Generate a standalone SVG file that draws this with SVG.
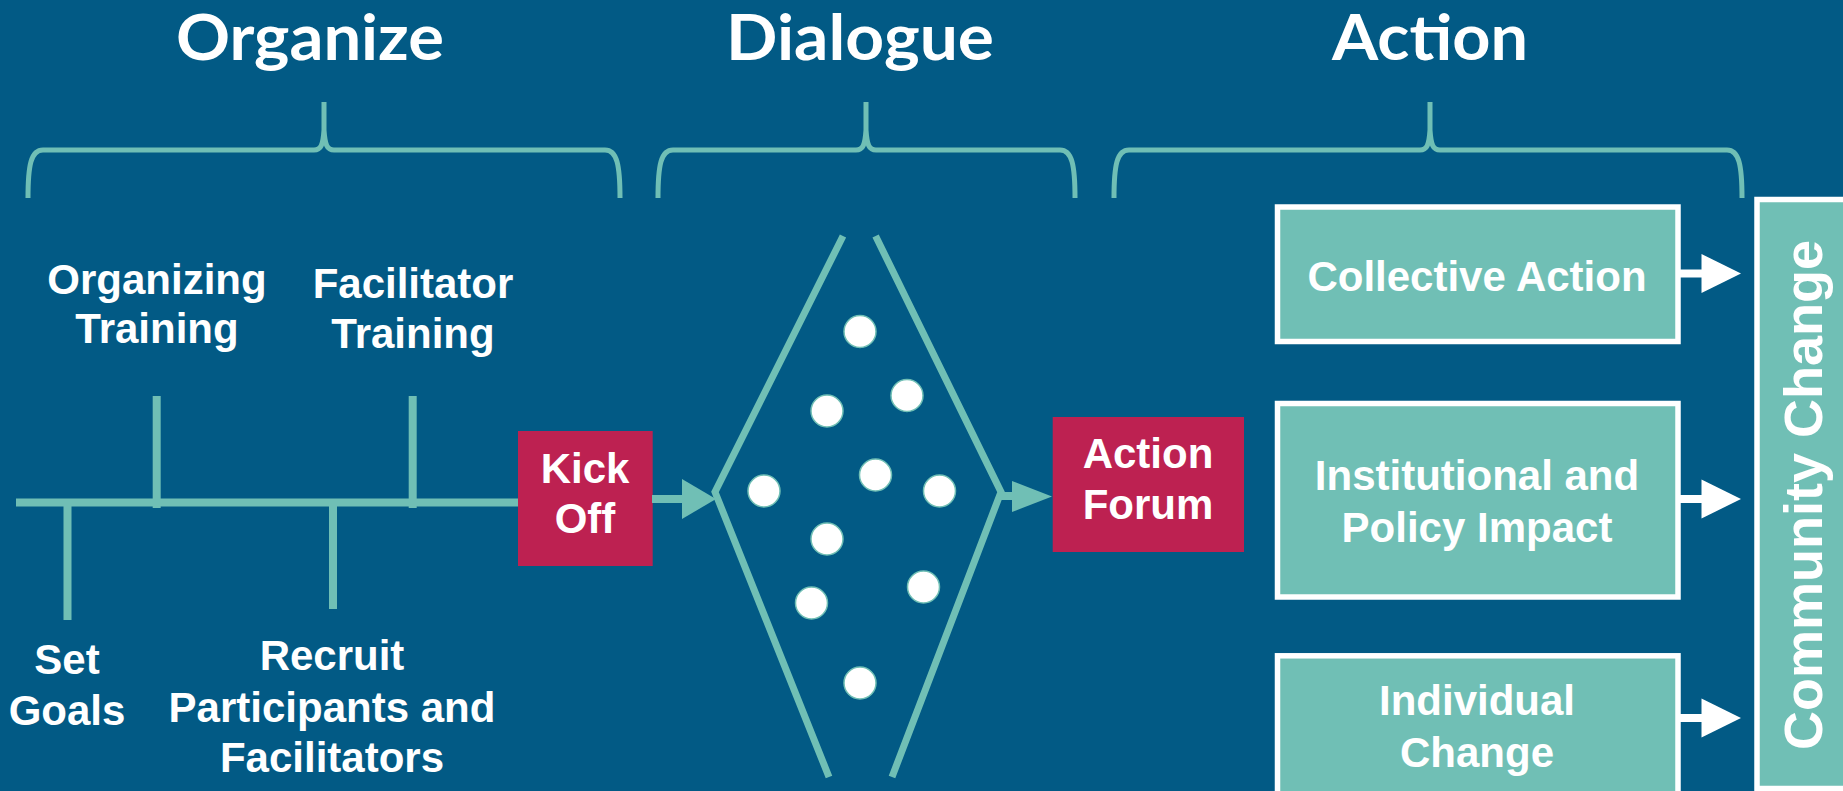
<svg xmlns="http://www.w3.org/2000/svg" width="1843" height="791" viewBox="0 0 1843 791">
<style>
.title{font-family:Lato,"Open Sans",sans-serif;font-weight:700;font-size:64px;fill:#fff;text-anchor:middle}
.lbl{font-family:"Liberation Sans",Arial,sans-serif;font-weight:700;font-size:42px;fill:#fff;text-anchor:middle}
.brace{fill:none;stroke:#70BFB5;stroke-width:5;stroke-linejoin:round}
.teal{stroke:#70BFB5;stroke-width:8;fill:none}
.dline{stroke:#70BFB5;stroke-width:7;fill:none}
.tbox{fill:#70BFB5;stroke:#fff;stroke-width:5.5}
.red{fill:#BD2151}
.dot{fill:#fff;stroke:#70BFB5;stroke-width:1.5}
.wline{stroke:#fff;stroke-width:8}
.whead{fill:#fff}
.thead{fill:#70BFB5}
</style>
<rect x="0" y="0" width="1843" height="791" fill="#025A85"/>

<g id="titles">
<text class="title" x="310" y="60" textLength="268" lengthAdjust="spacingAndGlyphs">Organize</text>
<text class="title" x="860" y="60" textLength="268" lengthAdjust="spacingAndGlyphs">Dialogue</text>
<text class="title" x="1430" y="60" textLength="196" lengthAdjust="spacingAndGlyphs">Action</text>
</g>

<g id="braces">
<path class="brace" d="M28,198 C28,165 31,150 43,150 H314 C321,150 323,145 324,130 V102 M324,130 C325,145 327,150 334,150 H605 C617,150 620,165 620,198"/>
<path class="brace" d="M658,198 C658,165 661,150 673,150 H856 C863,150 865,145 866,130 V102 M866,130 C867,145 869,150 876,150 H1060 C1072,150 1075,165 1075,198"/>
<path class="brace" d="M1114,198 C1114,165 1117,150 1129,150 H1420 C1427,150 1429,145 1430,130 V102 M1430,130 C1431,145 1433,150 1440,150 H1727 C1739,150 1742,165 1742,198"/>
</g>

<g id="timeline">
<line class="teal" x1="16" y1="502.5" x2="520" y2="502.5"/>
<line class="teal" x1="156.7" y1="396" x2="156.7" y2="508"/>
<line class="teal" x1="412.7" y1="396" x2="412.7" y2="508"/>
<line class="teal" x1="67.5" y1="502" x2="67.5" y2="620"/>
<line class="teal" x1="333" y1="502" x2="333" y2="609"/>
</g>

<g id="organizing-training">
<text class="lbl" x="157" y="294">Organizing</text>
<text class="lbl" x="157" y="343">Training</text>
</g>
<g id="facilitator-training">
<text class="lbl" x="413" y="298">Facilitator</text>
<text class="lbl" x="413" y="348">Training</text>
</g>
<g id="set-goals">
<text class="lbl" x="67" y="674">Set</text>
<text class="lbl" x="67" y="725">Goals</text>
</g>
<g id="recruit">
<text class="lbl" x="332" y="670">Recruit</text>
<text class="lbl" x="332" y="722">Participants and</text>
<text class="lbl" x="332" y="772">Facilitators</text>
</g>

<g id="kick-off">
<rect class="red" x="518" y="431" width="134.7" height="135"/>
<text class="lbl" x="585" y="483">Kick</text>
<text class="lbl" x="585" y="533">Off</text>
</g>

<g id="dialogue">
<polyline class="dline" points="843,236 715,492 829,777"/>
<polyline class="dline" points="875.6,236 1001,492 892,777"/>
<circle class="dot" cx="860" cy="331.5" r="16"/>
<circle class="dot" cx="907" cy="395.5" r="16"/>
<circle class="dot" cx="827" cy="411" r="16"/>
<circle class="dot" cx="875.5" cy="475" r="16"/>
<circle class="dot" cx="764" cy="491" r="16"/>
<circle class="dot" cx="939.5" cy="491" r="16"/>
<circle class="dot" cx="827" cy="539" r="16"/>
<circle class="dot" cx="923.5" cy="587" r="16"/>
<circle class="dot" cx="811.5" cy="603" r="16"/>
<circle class="dot" cx="860" cy="683" r="16"/>
</g>

<g id="action-forum">
<rect class="red" x="1052.7" y="417" width="191.3" height="135"/>
<text class="lbl" x="1148" y="467.5">Action</text>
<text class="lbl" x="1148" y="519">Forum</text>
</g>

<g id="collective-action">
<rect class="tbox" x="1277.5" y="207" width="400.5" height="134.5"/>
<text class="lbl" x="1477" y="290.5">Collective Action</text>
</g>
<g id="institutional">
<rect class="tbox" x="1277.5" y="403.5" width="400.5" height="193.5"/>
<text class="lbl" x="1477" y="490">Institutional and</text>
<text class="lbl" x="1477" y="542">Policy Impact</text>
</g>
<g id="individual">
<rect class="tbox" x="1277.5" y="655.8" width="400.5" height="150"/>
<text class="lbl" x="1477" y="715">Individual</text>
<text class="lbl" x="1477" y="767">Change</text>
</g>
<g id="community-change">
<rect class="tbox" x="1757" y="199.5" width="100" height="589"/>
<text class="lbl" style="font-size:54px" transform="translate(1822,495) rotate(-90)" x="0" y="0">Community Change</text>
</g>

<g id="connectors">
<line class="teal" x1="652" y1="499" x2="684" y2="499"/>
<polygon class="thead" points="682,479 682,519 716,499"/>
<line class="teal" x1="1000" y1="496" x2="1014" y2="496"/>
<polygon class="thead" points="1012,481 1012,512 1052,496.5"/>
<line class="wline" x1="1680" y1="273.5" x2="1703" y2="273.5"/>
<polygon class="whead" points="1701.5,254 1701.5,293 1741,273.5"/>
<line class="wline" x1="1680" y1="499" x2="1703" y2="499"/>
<polygon class="whead" points="1701.5,479.5 1701.5,518.5 1741,499"/>
<line class="wline" x1="1680" y1="718" x2="1703" y2="718"/>
<polygon class="whead" points="1701.5,698.5 1701.5,737.5 1741,718"/>
</g>
</svg>
